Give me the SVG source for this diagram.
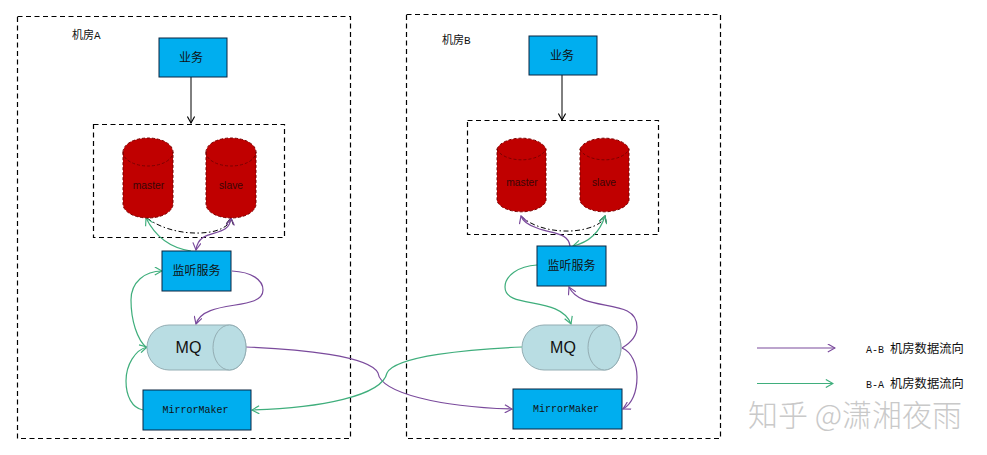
<svg xmlns="http://www.w3.org/2000/svg" width="987" height="455" viewBox="0 0 987 455">
<style>
text{font-family:"Noto Sans CJK SC","Liberation Sans",sans-serif;fill:#111;text-anchor:middle}
.frame{fill:none;stroke:#000;stroke-width:1.2;stroke-dasharray:5 3.5}
.box{fill:#00aeef;stroke:#0a2540;stroke-width:1}
.db{fill:#c00000;stroke:#7a0000;stroke-width:1;stroke-dasharray:3 2}
.dbt{font-family:"Liberation Sans",sans-serif;font-size:10.3px;fill:#3a0606}
.mq{fill:#b9dde3;stroke:#93adb3;stroke-width:1}
.mqt{font-family:"Liberation Sans",sans-serif;font-size:16px;fill:#111}
.mono{font-family:"Liberation Mono",monospace;font-size:10px}
.cjk{font-size:12px}
.lbl{font-size:11px;text-anchor:start}
.leg{font-size:12.300px;text-anchor:start}
.p{fill:none;stroke:#7a4a9c;stroke-width:1.2}
.g{fill:none;stroke:#3fae7c;stroke-width:1.2}
.k{fill:none;stroke:#000;stroke-width:1}
.dd{stroke-dasharray:5 2.5 1.500 2.500}
.wm{font-size:30px;fill:#c9c9c9;text-anchor:start;font-weight:300}
</style>
<defs>
<marker id="ap" viewBox="0 0 10 10" refX="9" refY="5" markerWidth="9" markerHeight="9" markerUnits="userSpaceOnUse" orient="auto-start-reverse"><path d="M1 0.500L9 5L1 9.500" fill="none" stroke="#7a4a9c" stroke-width="1.300"/></marker>
<marker id="ag" viewBox="0 0 10 10" refX="9" refY="5" markerWidth="9" markerHeight="9" markerUnits="userSpaceOnUse" orient="auto-start-reverse"><path d="M1 0.500L9 5L1 9.500" fill="none" stroke="#3fae7c" stroke-width="1.300"/></marker>
<marker id="ak" viewBox="0 0 10 10" refX="9" refY="5" markerWidth="8" markerHeight="8" markerUnits="userSpaceOnUse" orient="auto-start-reverse"><path d="M1 0.500L9 5L1 9.500" fill="none" stroke="#000" stroke-width="1.400"/></marker>
</defs>

<g id="room-a"><rect class="frame" x="17.500" y="16.500" width="333" height="422"/><text class="lbl" x="72" y="39">机房<tspan font-family="Liberation Mono, monospace">A</tspan></text></g>
<g id="room-b"><rect class="frame" x="406.500" y="14.500" width="314" height="424"/><text class="lbl" x="442" y="44">机房<tspan font-family="Liberation Mono, monospace">B</tspan></text></g>
<g id="db-group-a"><rect class="frame" x="93.500" y="124.500" width="191" height="113"/></g>
<g id="db-group-b"><rect class="frame" x="467.500" y="120.500" width="191" height="114"/></g>

<g id="connectors">
<path class="k" marker-end="url(#ak)" d="M191 77V123"/>
<path class="k" marker-end="url(#ak)" d="M562 75V120"/>
<path class="k dd" d="M147 218C165 232 195 236 215 231C225 228 230 224 231 218" marker-end="url(#ak)"/>
<path class="k dd" d="M521 216C535 230 565 234 585 229C597 226 603 222 605 216" marker-end="url(#ak)"/>
<path class="g" marker-end="url(#ag)" d="M191 251C170 248 155 236 146 218"/>
<path class="p" marker-start="url(#ap)" marker-end="url(#ap)" d="M231 218C229 240 199 226 196 250"/>
<path class="p" marker-end="url(#ap)" d="M232 271C252 272 263 280 263 290C263 312 204 298 196 324"/>
<path class="g" marker-end="url(#ag)" d="M147 348C137 340 131 320 131 300C131 282 145 271 162 271"/>
<path class="g" marker-end="url(#ag)" d="M143 410C132 408 126 396 126 381C126 365 135 350 147 347"/>
<path class="p" marker-end="url(#ap)" d="M246 347C300 349 370 356 378 373C381 393 440 407 512 409"/>
<path class="g" marker-end="url(#ag)" d="M522 347C470 349 395 356 387 373C382 396 320 408 252 410"/>
<path class="p" marker-end="url(#ap)" d="M570 246C568 232 552 234 537 228C528 225 523 222 521 216"/>
<path class="g" marker-start="url(#ag)" marker-end="url(#ag)" d="M573 246C590 242 600 232 605 216"/>
<path class="g" marker-end="url(#ag)" d="M537 265C518 266 505 276 505 287C505 310 560 295 571 324"/>
<path class="p" marker-end="url(#ap)" d="M622 348C632 342 637 335 637 327C637 296 582 314 569 287"/>
<path class="p" marker-end="url(#ap)" d="M622 348C632 352 637 365 637 377C637 392 632 404 623 409"/>
<path class="p" marker-end="url(#ap)" d="M757 348H835"/>
<path class="g" marker-end="url(#ag)" d="M757 383.500H833"/>
</g>

<g id="biz-a"><rect class="box" x="159" y="38" width="68" height="39"/><text class="cjk" x="191" y="62">业务</text></g>
<g id="biz-b"><rect class="box" x="529" y="36" width="68" height="39"/><text class="cjk" x="562" y="60">业务</text></g>

<g id="master-a"><path class="db" d="M123 152A25 14 0 0 1 173 152V204A25 14 0 0 1 123 204Z"/><path class="db" style="fill:none" d="M123 152A25 14 0 0 0 173 152"/><text class="dbt" x="148.500" y="189">master</text></g>
<g id="slave-a"><path class="db" d="M206 152A25 14 0 0 1 256 152V204A25 14 0 0 1 206 204Z"/><path class="db" style="fill:none" d="M206 152A25 14 0 0 0 256 152"/><text class="dbt" x="231" y="189">slave</text></g>
<g id="master-b"><path class="db" d="M497 149A25 13.500 0 0 1 546 149V201A25 13.500 0 0 1 497 201Z"/><path class="db" style="fill:none" d="M497 149A25 13.500 0 0 0 546 149"/><text class="dbt" x="522" y="186">master</text></g>
<g id="slave-b"><path class="db" d="M580 149A25 13.500 0 0 1 629 149V201A25 13.500 0 0 1 580 201Z"/><path class="db" style="fill:none" d="M580 149A25 13.500 0 0 0 629 149"/><text class="dbt" x="604" y="186">slave</text></g>

<g id="listener-a"><rect class="box" x="162" y="251" width="69" height="40"/><text class="cjk" x="196.500" y="275">监听服务</text></g>
<g id="listener-b"><rect class="box" x="537" y="246" width="69" height="40"/><text class="cjk" x="571.500" y="270">监听服务</text></g>

<g id="mq-a"><path class="mq" d="M169 325H229.500A16.500 22.500 0 0 1 229.500 370H169A22 22.500 0 0 1 169 325Z"/><ellipse class="mq" cx="229.500" cy="347.500" rx="16.500" ry="22.500"/><text class="mqt" x="188.500" y="353">MQ</text></g>
<g id="mq-b"><path class="mq" d="M544 325H604.500A16.500 22.500 0 0 1 604.500 370H544A22 22.500 0 0 1 544 325Z"/><ellipse class="mq" cx="604.500" cy="347.500" rx="16.500" ry="22.500"/><text class="mqt" x="563" y="353">MQ</text></g>

<g id="mm-a"><rect class="box" x="143" y="390" width="108" height="40"/><text class="mono" x="195.500" y="413">MirrorMaker</text></g>
<g id="mm-b"><rect class="box" x="513" y="389" width="109" height="40"/><text class="mono" x="566" y="412">MirrorMaker</text></g>

<g id="legend"><text class="leg" x="866" y="353"><tspan class="mono">A-B</tspan><tspan x="890">机房数据流向</tspan></text><text class="leg" x="866" y="388"><tspan class="mono">B-A</tspan><tspan x="890">机房数据流向</tspan></text></g>
<text class="wm" x="748" y="426">知乎 @潇湘夜雨</text>
</svg>
